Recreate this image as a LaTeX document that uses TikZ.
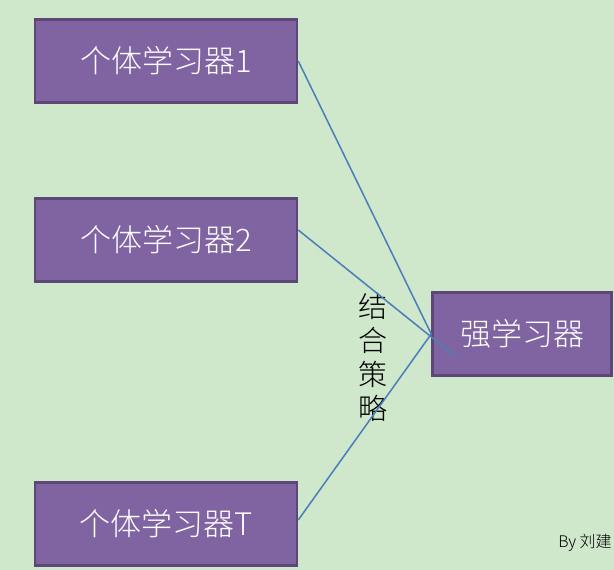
\documentclass[tikz,border=0pt]{standalone}
\usepackage{fontspec}
\setmainfont{Liberation Sans}
\newfontfamily\cjk{Noto Sans CJK SC Light}
\usetikzlibrary{positioning,calc}
\definecolor{bggreen}{RGB}{207,231,203}
\definecolor{boxfill}{RGB}{128,100,162}
\definecolor{boxdraw}{RGB}{93,71,120}
\definecolor{linkblue}{RGB}{74,126,187}

\begin{document}
\begin{tikzpicture}[x=1pt, y=-1pt, semithick]
\tikzstyle{learner}=[rectangle,fill=boxfill,draw=boxdraw,line width=2.5pt,text=white,minimum width=262pt,minimum height=83pt,font=\cjk\fontsize{31}{34}\selectfont]
\tikzstyle{strong}=[learner,minimum width=179pt]
\tikzstyle{link}=[draw=linkblue,line width=1.5pt]
\clip (0,0) rectangle (614,570);
\fill[bggreen] (0,0) rectangle (614,570);
\node[learner]  (L1) at (166,61)    {个体学习器1};
\node[learner]  (L2) at (166,240)   {个体学习器2};
\node[learner]  (LT) at (166,524)   {个体学习器T};
\node[strong]   (S)  at (522,334)   {强学习器};
\coordinate (E) at (455,356);
\node[font=\cjk\fontsize{29}{34}\selectfont,align=center] (C) at (373,357) {结\\合\\策\\略};
\node[font=\cjk\fontsize{16}{18}\selectfont,anchor=east,inner sep=1pt] (B) at (613,543) {By 刘建};
\path[link]
(L1.east)               -- (S.west)
($(L2.east)+(0,-10)$)   -- (E)
($(LT.east)+(0,-4)$)    -- (S.west);
\end{tikzpicture}
\end{document}
